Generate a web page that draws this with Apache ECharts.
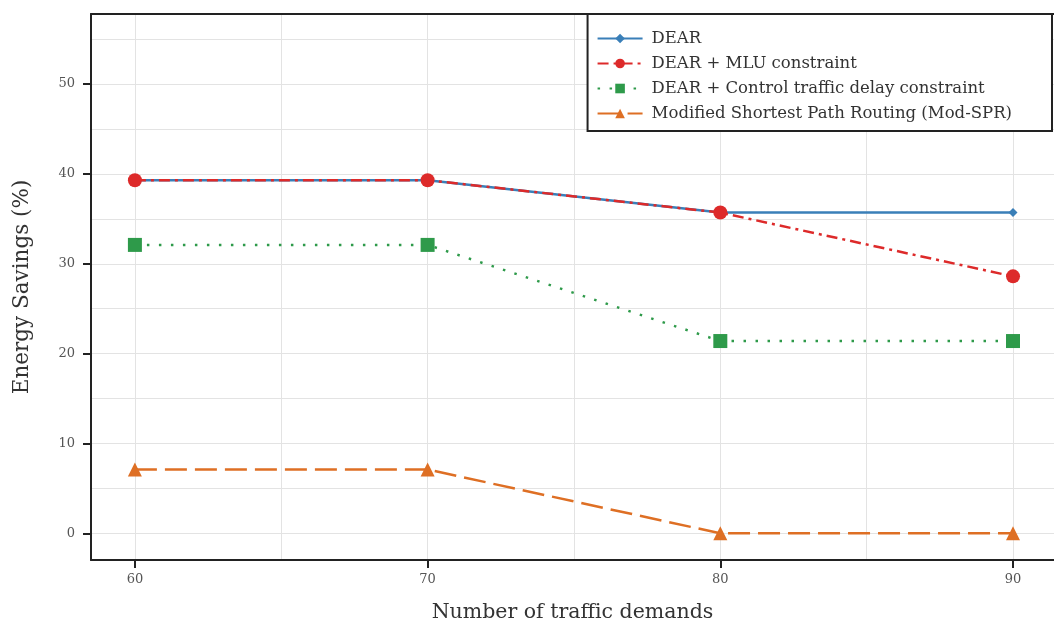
<!DOCTYPE html>
<html>
<head>
<meta charset="utf-8">
<script src="https://cdn.jsdelivr.net/npm/echarts@6/dist/echarts.min.js"></script>
<style>
  html, body { margin: 0; padding: 0; background: #fff; }
  #chart { width: 1054px; height: 628px; }
</style>
</head>
<body>
<div id="chart"></div>
<script>
// data
var demands = [60, 70, 80, 90]
var dear = [39.3, 39.3, 35.7, 35.7]
var dearMlu = [39.3, 39.3, 35.7, 28.6]
var dearCtrl = [32.1, 32.1, 21.4, 21.4]
var modSpr = [7.1, 7.1, 0, 0]
var xTicks = [60, 70, 80, 90]
var xGrid = [60, 65, 70, 75, 80, 85, 90]
var yTicks = [0, 10, 20, 30, 40, 50]
var yGrid = [0, 5, 10, 15, 20, 25, 30, 35, 40, 45, 50, 55]

function pairs (ys) {
  return demands.map(function (x, i) { return [x, ys[i]] })
}

var serif = "'DejaVu Serif', 'Liberation Serif', serif"
var frame = { show: true, onZero: false, lineStyle: { color: '#222', width: 2 } }
var chart = echarts.init(document.getElementById('chart'))

// axis 0 draws the light grid and the frame, axis 1 the ticks and labels
var gridAxisX = {
  type: 'value', min: 58.5, max: 91.4, position: 'bottom',
  axisLine: frame,
  axisTick: { show: false, customValues: xGrid },
  axisLabel: { show: false },
  splitLine: { show: true, lineStyle: { color: '#e3e3e3', width: 1 } }
}
var topFrame = {
  type: 'value', min: 58.5, max: 91.4, position: 'top',
  axisLine: frame,
  axisTick: { show: false },
  axisLabel: { show: false },
  splitLine: { show: false }
}
var gridAxisY = {
  type: 'value', min: -2.97, max: 57.8, position: 'left',
  axisLine: frame,
  axisTick: { show: false, customValues: yGrid },
  axisLabel: { show: false },
  splitLine: { show: true, lineStyle: { color: '#e3e3e3', width: 1 } }
}

chart.setOption({
  animation: false,
  grid: {
    left: 91, right: 0, top: 14, bottom: 68,
    outerBoundsMode: 'none',
    containLabel: false,
    show: false
  },
  legend: {
    orient: 'vertical',
    right: 2,
    top: 14,
    itemWidth: 45,
    itemHeight: 12,
    itemGap: 8,
    padding: [16, 40, 9, 9],
    borderColor: '#222',
    borderWidth: 2,
    borderRadius: 0,
    backgroundColor: '#fff',
    textStyle: { fontFamily: serif, fontSize: 16.5, color: '#333', padding: [0, 0, 0, 4] },
    data: ['DEAR', 'DEAR + MLU constraint', 'DEAR + Control traffic delay constraint', 'Modified Shortest Path Routing (Mod-SPR)']
  },
  xAxis: [gridAxisX, {
    type: 'value', min: 58.5, max: 91.4, position: 'bottom',
    name: 'Number of traffic demands',
    nameLocation: 'middle',
    nameGap: 42,
    nameTextStyle: { fontFamily: serif, fontSize: 20.5, color: '#333' },
    axisLine: { show: false, onZero: false },
    axisTick: { show: true, length: 8, customValues: xTicks, lineStyle: { color: '#222', width: 2 } },
    axisLabel: { customValues: xTicks, fontFamily: serif, fontSize: 13, color: '#555', margin: 13 },
    splitLine: { show: false }
  }, topFrame],
  yAxis: [gridAxisY, {
    type: 'value', min: -2.97, max: 57.8, position: 'left',
    name: 'Energy Savings (%)',
    nameLocation: 'middle',
    nameGap: 58,
    nameTextStyle: { fontFamily: serif, fontSize: 21.5, color: '#333' },
    axisLine: { show: false, onZero: false },
    axisTick: { show: true, length: 8, customValues: yTicks, lineStyle: { color: '#222', width: 2 } },
    axisLabel: { customValues: yTicks, fontFamily: serif, fontSize: 13, color: '#555', margin: 16 },
    splitLine: { show: false }
  }],
  series: [
    {
      name: 'DEAR', type: 'line', xAxisIndex: 1, yAxisIndex: 1,
      data: pairs(dear),
      symbol: 'diamond', symbolSize: 9,
      itemStyle: { color: '#3a7fb8' },
      lineStyle: { color: '#3a7fb8', width: 2.5, type: 'solid' },
      z: 2
    },
    {
      name: 'DEAR + MLU constraint', type: 'line', xAxisIndex: 1, yAxisIndex: 1,
      data: pairs(dearMlu),
      symbol: 'circle', symbolSize: 14,
      itemStyle: { color: '#dd2a2a' },
      lineStyle: { color: '#dd2a2a', width: 2.5, type: [11, 5, 3, 5] },
      z: 3
    },
    {
      name: 'DEAR + Control traffic delay constraint', type: 'line', xAxisIndex: 1, yAxisIndex: 1,
      data: pairs(dearCtrl),
      symbol: 'rect', symbolSize: 14,
      itemStyle: { color: '#2e9a4a' },
      lineStyle: { color: '#2e9a4a', width: 2.5, type: [2.5, 9.5] },
      z: 3
    },
    {
      name: 'Modified Shortest Path Routing (Mod-SPR)', type: 'line', xAxisIndex: 1, yAxisIndex: 1,
      data: pairs(modSpr),
      symbol: 'triangle', symbolSize: 14,
      itemStyle: { color: '#de6f24' },
      lineStyle: { color: '#de6f24', width: 2.5, type: [22, 8] },
      z: 3
    }
  ]
})
</script>
</body>
</html>
